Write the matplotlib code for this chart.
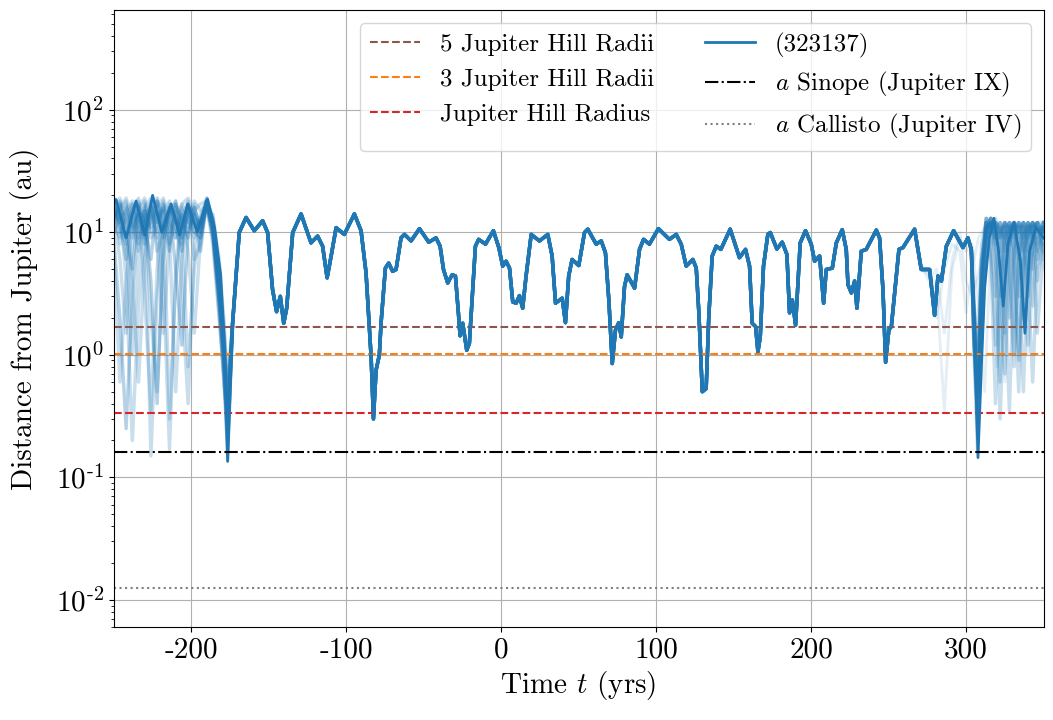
import numpy as np
import matplotlib
matplotlib.use("Agg")
import matplotlib.pyplot as plt
from matplotlib.ticker import FuncFormatter, LogLocator

plt.rcParams['font.family'] = 'serif'
plt.rcParams['font.serif'] = ['cmr10']
plt.rcParams['mathtext.fontset'] = 'cm'
plt.rcParams['axes.unicode_minus'] = False
plt.rcParams['axes.formatter.use_mathtext'] = True

# reference distances (au)
hill = 0.338
a_sinope = 0.160
a_callisto = 0.01259

# nominal orbit of (323137)
t_nom = [-250, -248.5, -242, -235.6, -230, -224.9, -219, -213, -207.5, -202.3, -196,
         -189.5, -185, -181, -179, -177.5, -176.5, -173.3, -169, -164.6, -159.3, -153.9,
         -150.7, -147.5, -144.9, -142.5, -140.3, -138.4, -134.5, -129.1, -122.7, -118.4,
         -115.2, -112.3, -109.7, -106.5, -101.2, -94.7, -90.4, -87.2, -83.9, -82.4, -80.7,
         -78.6, -77.5, -74.7, -72.6, -70, -67.8, -64.6, -62.4, -58.1, -52.7, -46.7, -42,
         -39.4, -37.2, -34.5, -31.6, -29.5, -27.4, -26.5, -24.8, -22.2, -20.5, -16.6,
         -14.5, -10.1, -5, -1.5, 1, 3.2, 5.4, 7.5, 9.7, 11.8, 13.9, 16.1, 19.4, 24.7,
         30.1, 32.9, 35.1, 39.4, 41.5, 43.6, 45.8, 50.1, 53.8, 55.9, 61.3, 64.6, 67.3,
         69.5, 71.7, 73.8, 75.9, 77.5, 79.6, 81.3, 86.1, 89.3, 91.9, 95.7, 101.5, 108.6,
         113, 116.2, 119.4, 123.7, 125.9, 127.6, 129.8, 132.3, 134, 136.2, 138.8, 141.8,
         147.8, 153.8, 157.7, 160.3, 162, 164.2, 165.7, 167.2, 169.3, 172.1, 173.7, 177.9,
         181.4, 184.4, 186.1, 187.9, 190, 193, 196.4, 200.1, 202.3, 205.5, 208.1, 209.8,
         213.7, 216.3, 220.1, 222.7, 223.8, 226, 228.1, 229.6, 232.4, 235.6, 242.1, 244.2,
         246.4, 248.1, 250.2, 251.8, 256.7, 259.3, 266.8, 271.1, 276.5, 279.7, 281.9,
         284.1, 287.3, 292, 298, 301.2, 303.4, 305.6, 307.7, 309.9, 312, 315, 318, 321,
         324, 327, 331, 335, 338, 341, 345, 350]
d_nom = [17, 18.5, 9, 18, 9.5, 20, 10, 17, 9.5, 17, 10,
         18.7, 11, 4.5, 1.5, 0.5, 0.135, 1.8, 9.95, 13.2, 10.3, 12.4,
         9.95, 3.4, 2.25, 3.0, 1.81, 2.4, 9.95, 14.1, 8.2, 9.3,
         7.7, 4.25, 6.4, 10.9, 9.6, 14.1, 10.3, 4.7, 0.96, 0.30, 0.75,
         0.995, 1.81, 5.1, 5.6, 4.8, 4.97, 9.0, 9.6, 8.5, 10.7, 8.3, 9.0,
         7.7, 4.97, 3.86, 4.5, 4.4, 2.05, 1.43, 1.81, 1.09, 1.24, 7.7,
         8.75, 8.0, 10.3, 7.5, 5.3, 5.8, 5.1, 2.7, 2.64, 3.04, 2.4, 4.4, 9.6, 8.5,
         9.6, 6.4, 2.64, 2.9, 1.83, 4.4, 6.0, 5.35, 9.95, 10.6, 8.0, 8.5, 6.8,
         2.8, 0.85, 1.6, 1.83, 1.4, 3.6, 4.5, 3.5, 7.25, 8.75, 8.0, 10.7, 8.75,
         9.6, 8.0, 5.3, 6.0, 5.1, 2.2, 0.50, 0.53, 2.05, 6.4, 7.7, 7.25,
         10.6, 6.2, 7.25, 5.3, 1.81, 1.7, 1.06, 1.4, 5.3, 9.6, 9.95, 7.3,
         8.3, 6.6, 2.2, 2.8, 1.75, 8.2, 10.3, 8.0, 5.8, 6.4, 2.64, 4.97,
         5.1, 8.2, 10.5, 7.25, 3.74, 3.2, 4.0, 2.4, 7.0, 7.25, 10.4, 9.0,
         3.4, 0.87, 1.6, 1.7, 7.25, 7.5, 10.6, 4.97, 4.97, 2.1, 4.4,
         4.0, 7.7, 10.3, 7.5, 9.0, 7.25, 1.6, 0.145, 0.8, 3.5, 9, 13, 7,
         2.5, 8, 12, 6, 1.5, 7, 11, 9]

# clones before the close encounter at t ~ -177
t_left = [-250, -246, -242, -238, -234, -230, -226, -222, -218, -214, -210, -206,
          -202, -198, -194, -190, -186, -182, -179, -176.5]
clones_left = [
    [16, 12, 6, 14, 17, 8, 15, 18, 9, 16, 11, 7, 17, 10, 9, 18, 11, 3, 0.8, 0.2],
    [12, 18, 9, 5, 16, 12, 6, 19, 13, 7, 17, 12, 9, 16, 11, 17, 9, 2.5, 0.6, 0.3],
    [9, 2, 0.25, 3, 12, 15, 4, 0.4, 8, 16, 5, 1.2, 10, 14, 7, 18, 12, 5, 1.5, 0.5],
    [14, 6, 1.5, 8, 18, 3, 0.35, 5, 17, 0.3, 4, 13, 18, 6, 8, 19, 13, 4, 1.0, 0.25],
    [18, 10, 13, 17, 9, 12, 18, 8, 1.5, 9, 16, 9, 15, 11, 12, 17, 10, 3, 1.2, 0.4],
    [10, 15, 18, 4, 0.6, 6, 14, 10, 15, 9, 0.5, 6, 14, 17, 9, 16, 8, 2, 0.7, 0.18],
    [7, 0.6, 4, 12, 14, 16, 0.15, 3, 11, 16, 13, 10, 0.8, 5, 12, 15, 14, 6, 2.0, 0.6],
    [19, 14, 10, 1.0, 6, 14, 11, 17, 4, 0.17, 5, 15, 11, 16, 10, 18, 10, 3.5, 1.2, 0.35],
    [13, 17, 4, 0.2, 2.5, 11, 17, 9, 12, 15, 9, 16, 7, 1.5, 9, 17, 12, 4, 1.5, 0.45],
    [11, 9, 16, 12, 7, 17, 2, 0.5, 6, 13, 18, 3, 0.4, 8, 14, 18, 11, 2.8, 0.9, 0.2],
    [15, 12, 17, 10, 14, 9, 16, 12, 17, 10, 15, 8, 16, 12, 10, 18, 10, 3, 1.0, 0.3],
    [17, 11, 8, 16, 10, 13, 17, 7, 10, 17, 12, 9, 15, 10, 13, 17, 11, 3.2, 1.1, 0.14],
    [14, 17, 11, 15, 19, 10, 14, 18, 11, 15, 18, 10, 16, 13, 10, 18, 12, 4, 1.3, 0.3],
    [19, 13, 15, 18, 11, 16, 19, 12, 15, 18, 13, 11, 17, 14, 11, 19, 12, 3.5, 1.0, 0.25],
    [12, 16, 19, 13, 8, 15, 13, 16, 19, 12, 10, 14, 12, 18, 15, 17, 10, 2.8, 0.9, 0.2],
    [16, 19, 12, 9, 15, 18, 10, 13, 16, 11, 9, 17, 19, 13, 12, 18, 11, 3.8, 1.4, 0.4],
    [10, 13, 9, 17, 13, 10, 12, 15, 10, 14, 17, 13, 10, 15, 17, 18, 13, 5, 1.8, 0.5],
    [18, 8, 14, 11, 16, 19, 9, 11, 18, 8, 13, 17, 13, 9, 13, 17, 9, 2.2, 0.7, 0.16],
]

# clones after the close encounter at t ~ 308
t_right = [305, 307.5, 310, 313, 316, 319, 322, 325, 328, 331, 334, 337, 340, 343, 346, 350]
clones_right = [
    [2.0, 0.4, 2, 11, 13, 8, 3, 9, 12, 5, 1, 7, 12, 10, 4, 9],
    [1.5, 0.3, 3, 12, 10, 12, 6, 1.5, 9, 12, 8, 2, 9, 12, 7, 11],
    [3, 0.8, 1.2, 9, 13, 6, 0.6, 5, 11, 12, 4, 0.5, 6, 11, 12, 8],
    [1.2, 0.16, 4, 13, 12, 9, 11, 3, 0.35, 6, 12, 10, 3, 8, 12, 10],
    [2.5, 0.6, 6, 11, 8, 1.2, 4, 11, 12, 7, 0.9, 5, 11, 12, 6, 12],
    [1.8, 0.5, 1.8, 8, 12, 11, 4, 0.7, 7, 12, 9, 11, 4, 0.6, 5, 11],
    [2.2, 0.25, 5, 13, 9, 3, 10, 12, 5, 0.8, 7, 12, 11, 5, 10, 12],
    [1.4, 0.4, 2.5, 10, 13, 10, 12, 8, 2, 8, 12, 6, 1.2, 9, 12, 7],
    [2.8, 1.0, 8, 12, 6, 0.4, 3, 10, 12, 10, 3, 9, 12, 8, 1.5, 8],
    [1.6, 0.2, 3.5, 11, 12, 7, 0.3, 4, 10, 12, 11, 7, 10, 12, 9, 12],
    [2.0, 0.35, 4, 12, 11, 12, 9, 11, 6, 1.0, 6, 12, 8, 2.5, 9, 11],
    [1.3, 0.3, 2, 9, 12, 8, 10, 12, 11, 4, 0.5, 5, 11, 12, 11, 6],
    [2.2, 0.5, 5, 12, 13, 11, 12, 7, 11, 12, 10, 12, 9, 11, 12, 10],
    [1.7, 0.3, 3, 10, 12, 13, 9, 12, 10, 11, 12, 9, 12, 10, 8, 12],
    [2.6, 0.7, 6, 13, 11, 9, 12, 11, 8, 12, 11, 12, 7, 12, 11, 9],
    [1.9, 0.45, 4, 11, 12, 10, 7, 12, 11, 9, 12, 11, 10, 12, 10, 11],
    [1.5, 0.25, 2.5, 12, 10, 12, 11, 9, 12, 11, 6, 10, 12, 11, 12, 10],
    [2.4, 0.6, 5, 9, 13, 12, 10, 12, 9, 12, 10, 12, 11, 9, 12, 12],
]

# a few clones that leave the nominal orbit earlier
t_early = [271, 276, 281, 286, 291, 296, 300, 304, 308, 312, 316, 320, 325, 330, 335, 340, 345, 350]
clones_early = [
    [5, 4.5, 3.5, 0.35, 5, 9, 7, 8, 2.5, 0.5, 8, 12, 5, 10, 12, 4, 10, 12],
    [5.5, 4, 5, 1.5, 6, 10, 4, 3, 4.5, 9, 12, 4, 0.6, 7, 11, 12, 8, 5],
    [5, 4.8, 2, 5, 8, 7, 2.2, 5, 9, 11, 6, 0.8, 8, 12, 6, 1, 6, 11],
]

t_nom = np.array(t_nom)
d_nom = np.array(d_nom)
mid = (t_nom > t_left[-1]) & (t_nom < t_right[0])
mid_early = (t_nom > t_left[-1]) & (t_nom < t_early[0])

fig = plt.figure(figsize=(10.53, 7.2), dpi=100)
ax = fig.add_axes([0.108, 0.129, 0.883, 0.857])

blue = '#1f77b4'
for i in range(len(clones_right)):
    tt = np.concatenate([t_left, t_nom[mid], t_right])
    dd = np.concatenate([clones_left[i], d_nom[mid], clones_right[i]])
    ax.plot(tt, dd, color=blue, alpha=0.24, lw=2.5)
for i, ce in enumerate(clones_early):
    tt = np.concatenate([t_left, t_nom[mid_early], t_early])
    dd = np.concatenate([clones_left[i], d_nom[mid_early], ce])
    ax.plot(tt, dd, color=blue, alpha=0.12, lw=2)

ax.axhline(5 * hill, color='C5', ls='--', lw=1.5, label='5 Jupiter Hill Radii')
ax.axhline(3 * hill, color='C1', ls='--', lw=1.5, label='3 Jupiter Hill Radii')
ax.axhline(hill, color='C3', ls='--', lw=1.5, label='Jupiter Hill Radius')
ax.plot(t_nom, d_nom, color=blue, lw=2, label='(323137)')
ax.axhline(a_sinope, color='k', ls='-.', lw=1.5, label='$a$ Sinope (Jupiter IX)')
ax.axhline(a_callisto, color='C7', ls=':', lw=1.5, label='$a$ Callisto (Jupiter IV)')

ax.set_yscale('log')
ax.set_xlim(-250, 350)
ax.set_ylim(0.006, 650)
ax.yaxis.set_major_locator(LogLocator(base=10, numticks=10))
ax.yaxis.set_major_formatter(FuncFormatter(
    lambda v, p: r'$10^{\text{%d}}$' % int(round(np.log10(v)))))
ax.xaxis.set_major_formatter(FuncFormatter(lambda v, p: '%d' % v))
ax.grid(True, which='major', color='#b0b0b0', lw=0.8)
ax.tick_params(labelsize=21)

ax.set_xlabel('Time $t$ (yrs)', fontsize=21)
ax.set_ylabel('Distance from Jupiter (au)', fontsize=21, labelpad=12)
ax.legend(loc='upper right', ncol=2, fontsize=18)

fig.savefig('out.png', dpi=100)
